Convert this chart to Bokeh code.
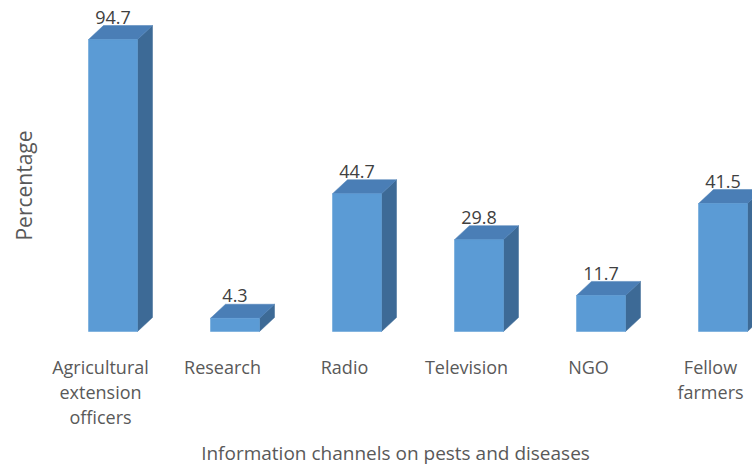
import numpy as np
from bokeh.plotting import figure
from bokeh.models import Range1d, ColumnDataSource
from bokeh.core.properties import value
from bokeh.embed import file_html
from bokeh.resources import INLINE

# ---- data ----
categories = ["Agricultural\nextension\nofficers", "Research", "Radio", "Television", "NGO", "Fellow\nfarmers"]
percentages = [94.7, 4.3, 44.7, 29.8, 11.7, 41.5]
value_labels = ["94.7", "4.3", "44.7", "29.8", "11.7", "41.5"]
x_title = "Information channels on pests and diseases"
y_title = "Percentage"

W, H = 752, 465
PX_X = 122.0          # pixels per category
PX_Y = 3.083          # pixels per percent
x0 = -112.5 / PX_X
x1 = x0 + W / PX_X
y1 = 331.0 / PX_Y
y0 = y1 - H / PX_Y

p = figure(width=W, height=H, output_backend="svg", toolbar_location=None,
           x_range=Range1d(x0, x1), y_range=Range1d(y0, y1),
           x_axis_location=None, y_axis_location=None, min_border=0)
p.grid.visible = False
p.outline_line_color = None
p.background_fill_color = "white"
p.border_fill_color = "white"

idx = np.arange(len(categories), dtype=float)
vals = np.array(percentages)
bw = 49.0 / PX_X          # bar width in data units
dx = 15.0 / PX_X          # depth offset x
dy = 14.0 / PX_Y          # depth offset y
label_shift = 12.5 / PX_X # category labels sit slightly left of bar centres

left = idx - bw / 2
right = idx + bw / 2

# side faces
side_xs = [[r, r + dx, r + dx, r] for r in right]
side_ys = [[0, dy, v + dy, v] for v in vals]
# top faces
top_xs = [[l, l + dx, r + dx, r] for l, r in zip(left, right)]
top_ys = [[v, v + dy, v + dy, v] for v in vals]

p.patches(side_xs, side_ys, fill_color="#3D6A96", line_color="#3D6A96", line_width=0.5)
p.patches(top_xs, top_ys, fill_color="#4A7EB6", line_color="#4A7EB6", line_width=0.5)
p.quad(left=left, right=right, bottom=0, top=vals,
       fill_color="#5B9BD5", line_color="#5B9BD5", line_width=0.5)

font = value("Open Sans")
# value labels
src = ColumnDataSource(dict(x=idx, y=vals + dy + 0.6, t=value_labels))
p.text(x="x", y="y", text="t", source=src, text_font=font, text_font_size="18px",
       text_color="#404040", text_align="center", text_baseline="bottom")

# category labels
csrc = ColumnDataSource(dict(x=idx - label_shift, y=np.full(len(idx), -7.6), t=categories))
p.text(x="x", y="y", text="t", source=csrc, text_font=font, text_font_size="18px",
       text_color="#595959", text_align="center", text_baseline="top",
       text_line_height=1.04)

# axis titles
p.text(x=[x0 + 395 / PX_X], y=[y1 - 452 / PX_Y], text=[x_title],
       text_font=font, text_font_size="19px", text_color="#595959",
       text_align="center", text_baseline="middle")
p.text(x=[x0 + 23 / PX_X], y=[y1 - 185 / PX_Y], text=[y_title],
       text_font=font, text_font_size="21px", text_color="#595959",
       text_align="center", text_baseline="middle", angle=np.pi / 2)

open("out.html", "w").write(file_html(p, INLINE))
